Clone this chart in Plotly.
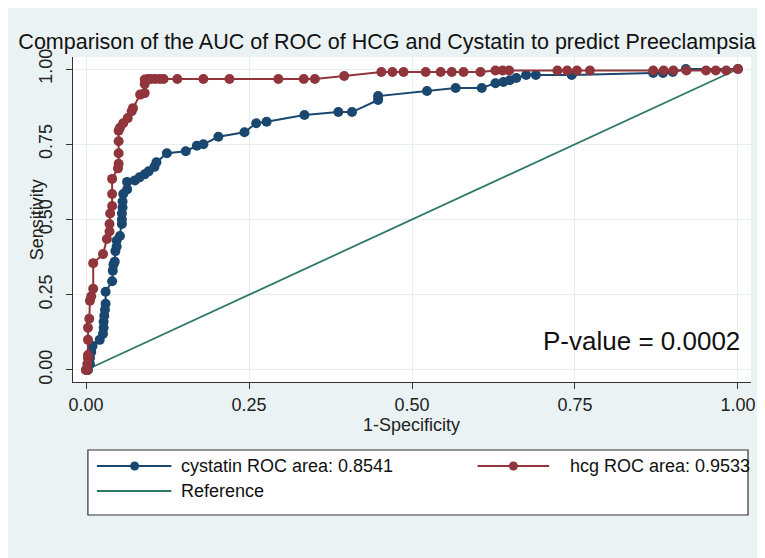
import plotly.graph_objects as go

# ---------------- data ----------------
cys_fpr = [0.0, 0.003, 0.006, 0.006, 0.008, 0.010, 0.021, 0.026, 0.027, 0.027, 0.028, 0.029,
           0.030, 0.030, 0.040, 0.041, 0.042, 0.044, 0.045, 0.047, 0.047, 0.052, 0.055, 0.055,
           0.055, 0.056, 0.056, 0.057, 0.063, 0.063, 0.075, 0.082, 0.090, 0.096, 0.105, 0.108,
           0.124, 0.153, 0.170, 0.180, 0.203, 0.243, 0.261, 0.277, 0.335, 0.387, 0.408, 0.448,
           0.448, 0.523, 0.567, 0.607, 0.628, 0.640, 0.650, 0.660, 0.675, 0.690, 0.745, 0.870,
           0.885, 0.900, 0.920, 1.0]
cys_tpr = [0.0, 0.0, 0.02, 0.04, 0.06, 0.08, 0.10, 0.12, 0.14, 0.16, 0.18, 0.20,
           0.22, 0.26, 0.295, 0.33, 0.35, 0.36, 0.395, 0.41, 0.43, 0.445, 0.485, 0.50,
           0.52, 0.54, 0.56, 0.585, 0.60, 0.625, 0.63, 0.64, 0.65, 0.66, 0.675, 0.69,
           0.72, 0.727, 0.745, 0.75, 0.775, 0.79, 0.82, 0.825, 0.847, 0.857, 0.857, 0.897,
           0.91, 0.927, 0.937, 0.937, 0.953, 0.957, 0.963, 0.97, 0.98, 0.98, 0.98, 0.987,
           0.987, 0.99, 1.0, 1.0]

hcg_fpr = [0.0, 0.002, 0.002, 0.003, 0.003, 0.003, 0.003, 0.005, 0.006, 0.008, 0.011, 0.011,
           0.026, 0.032, 0.036, 0.036, 0.037, 0.040, 0.040, 0.040, 0.049, 0.050, 0.050, 0.050,
           0.050, 0.052, 0.057, 0.064, 0.070, 0.072, 0.083, 0.090, 0.090, 0.090, 0.095, 0.100,
           0.106, 0.113, 0.119, 0.140, 0.180, 0.220, 0.295, 0.334, 0.351, 0.396, 0.453, 0.470,
           0.487, 0.521, 0.544, 0.561, 0.579, 0.605, 0.628, 0.639, 0.649, 0.723, 0.738, 0.753,
           0.773, 0.870, 0.886, 0.901, 0.921, 0.951, 0.966, 0.982, 1.0]
hcg_tpr = [0.0, 0.0, 0.02, 0.04, 0.05, 0.10, 0.14, 0.17, 0.23, 0.245, 0.27, 0.355,
           0.385, 0.435, 0.46, 0.485, 0.52, 0.545, 0.585, 0.635, 0.67, 0.685, 0.72, 0.76,
           0.795, 0.805, 0.82, 0.837, 0.86, 0.87, 0.915, 0.92, 0.95, 0.965, 0.967, 0.967,
           0.967, 0.967, 0.967, 0.967, 0.967, 0.967, 0.967, 0.967, 0.967, 0.977, 0.99, 0.99,
           0.99, 0.99, 0.99, 0.99, 0.99, 0.99, 0.995, 0.995, 0.995, 0.995, 0.995, 0.995,
           0.995, 0.995, 0.995, 0.995, 0.995, 0.995, 0.995, 0.995, 1.0]

ref_x = [0.0, 1.0]
ref_y = [0.0, 1.0]

tick_vals = [0.0, 0.25, 0.50, 0.75, 1.0]
tick_text = ["0.00", "0.25", "0.50", "0.75", "1.00"]

title_text = "Comparison of the AUC of ROC of HCG and Cystatin to predict Preeclampsia"
legend_labels = ["cystatin ROC area: 0.8541", "hcg ROC area: 0.9533", "Reference"]
pvalue_text = "P-value = 0.0002"

# ---------------- styling ----------------
NAVY = "#1A476F"
MAROON = "#90353B"
GREEN = "#2E7867"
BG = "#EAF2F3"
FONT = "Liberation Sans, Arial, sans-serif"

OFF = 8                     # page offset of the plot div (body margin)
W, H = 757, 550             # figure size
L, R, T, B = 65, 10, 49, 176
PW = W - L - R
PH = H - T - B


def px(xp):                 # page pixel x -> paper fraction
    return (xp - OFF - L) / PW


def py(yp):                 # page pixel y -> paper fraction
    return (H - B - (yp - OFF)) / PH


fig = go.Figure()
fig.add_trace(go.Scatter(x=ref_x, y=ref_y, mode="lines",
                         line=dict(color=GREEN, width=1.8), name=legend_labels[2]))
fig.add_trace(go.Scatter(x=cys_fpr, y=cys_tpr, mode="lines+markers",
                         line=dict(color=NAVY, width=2), marker=dict(color=NAVY, size=10),
                         name=legend_labels[0]))
fig.add_trace(go.Scatter(x=hcg_fpr, y=hcg_tpr, mode="lines+markers",
                         line=dict(color=MAROON, width=2), marker=dict(color=MAROON, size=10),
                         name=legend_labels[1]))

axis_common = dict(
    tickvals=tick_vals, ticktext=tick_text, showline=True, linecolor="#333333", linewidth=1.3,
    ticks="outside", ticklen=6, tickcolor="#333333", tickwidth=1.3,
    showgrid=True, gridcolor="#E6EEF0", gridwidth=1, zeroline=False,
    tickfont=dict(family=FONT, size=18, color="#222222"),
)

fig.update_xaxes(range=[-0.02, 1.02], ticklabelstandoff=0, **axis_common)
fig.update_yaxes(range=[-0.04, 1.04], tickangle=-90, ticklabelstandoff=7, **axis_common)

shapes = []
annotations = []

# axis titles
annotations.append(dict(text="1-Specificity", x=px(413), y=py(425), xref="paper", yref="paper",
                        showarrow=False, font=dict(family=FONT, size=18, color="#222222"),
                        xanchor="center", yanchor="middle"))
annotations.append(dict(text="Sensitivity", x=px(37), y=py(220), xref="paper", yref="paper",
                        showarrow=False, textangle=-90,
                        font=dict(family=FONT, size=18, color="#222222"),
                        xanchor="center", yanchor="middle"))
# p-value
annotations.append(dict(text=pvalue_text, x=px(746), y=py(341), xref="paper", yref="paper",
                        showarrow=False, font=dict(family=FONT, size=26, color="#111111"),
                        xanchor="right", yanchor="middle"))

# custom legend
shapes.append(dict(type="rect", xref="paper", yref="paper", x0=px(88), x1=px(752), y0=py(515), y1=py(450),
                   fillcolor="white", line=dict(color="#333333", width=1.2)))
legend_items = [
    (97, 172, 135, 180, 466, NAVY, True, legend_labels[0]),
    (480, 552, 516, 571, 466, MAROON, True, legend_labels[1]),
    (97, 172, None, 180, 491, GREEN, False, legend_labels[2]),
]
for x0, x1, xm, xt, yr, col, mk, lab in legend_items:
    shapes.append(dict(type="line", xref="paper", yref="paper", x0=px(x0), x1=px(x1), y0=py(yr), y1=py(yr),
                       line=dict(color=col, width=2)))
    if mk:
        r = 4.5
        shapes.append(dict(type="circle", xref="paper", yref="paper", x0=px(xm - r), x1=px(xm + r),
                           y0=py(yr + r), y1=py(yr - r), fillcolor=col, line=dict(color=col, width=0)))
    annotations.append(dict(text=lab, x=px(xt), y=py(yr), xref="paper", yref="paper", showarrow=False,
                            font=dict(family=FONT, size=18, color="#111111"),
                            xanchor="left", yanchor="middle"))

fig.update_layout(
    width=W, height=H,
    margin=dict(l=L, r=R, t=T, b=B),
    paper_bgcolor=BG, plot_bgcolor="white",
    showlegend=False,
    title=dict(text=title_text, x=(387 - OFF) / W, xanchor="center", y=1 - (41 - OFF) / H, yanchor="middle",
               font=dict(family=FONT, size=21.5, color="#111111")),
    shapes=shapes, annotations=annotations,
)

fig.write_html("out.html")
